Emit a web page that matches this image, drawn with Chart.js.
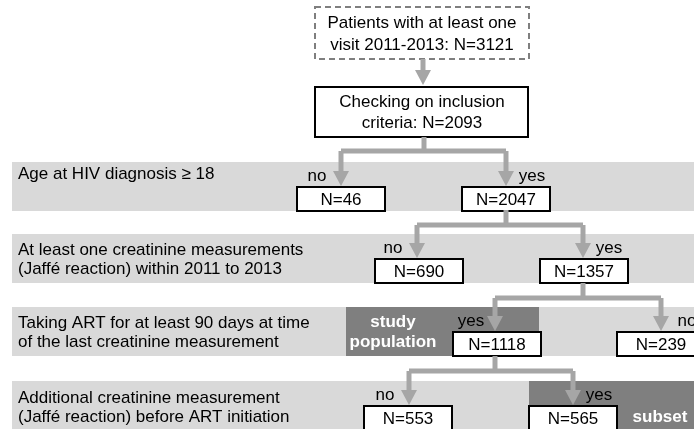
<!DOCTYPE html>
<html>
<head>
<meta charset="utf-8">
<script src="https://cdn.jsdelivr.net/npm/chart.js@4.4.1/dist/chart.umd.min.js"></script>
<style>
  html, body { margin: 0; padding: 0; background: #fff; }
  #flow { display: block; }
</style>
</head>
<body>
<canvas id="flow" width="694" height="429"></canvas>
<script>
// données du diagramme
const startText = ['Patients with at least one', 'visit 2011-2013: N=3121'];
const checkText = ['Checking on inclusion', 'criteria: N=2093'];
const criteria = [
  ['Age at HIV diagnosis \u2265 18'],
  ['At least one creatinine measurements', '(Jaffé reaction) within 2011 to 2013'],
  ['Taking ART for at least 90 days at time', 'of the last creatinine measurement'],
  ['Additional creatinine measurement', '(Jaffé reaction) before ART initiation']
];
const leftAnswers = ['no', 'no', 'yes', 'no'];
const leftCounts = [46, 690, 1118, 553];
const rightAnswers = ['yes', 'yes', 'no', 'yes'];
const rightCounts = [2047, 1357, 239, 565];
const highlights = [['study', 'population'], ['subset']];

// mise en page (unités des axes)
const rowTop = [162, 234, 307, 381];
const rowH = 49;
const branchX = [[341, 506], [417, 583], [495, 661], [409, 573]];
const splitY = [151, 225, 298, 371];
const boxX = [[297, 462], [375, 540], [453, 617], [364, 529]];
const boxW = 88, boxH = 24;
const criteriaY = [[174], [250, 269], [323, 342], [398, 417]];

const GREY_LINE = '#a6a6a6';
const BAND = '#d9d9d9';
const DARK = '#7f7f7f';
const FONT = '"Liberation Sans", Arial, sans-serif';

const flowPlugin = {
  id: 'flow',
  beforeDatasetsDraw(chart) {
    const ctx = chart.ctx;
    const sx = chart.scales.x, sy = chart.scales.y;
    const px = v => sx.getPixelForValue(v);
    const py = v => sy.getPixelForValue(v);

    function rect(x0, y0, x1, y1, fill) {
      ctx.fillStyle = fill;
      ctx.fillRect(px(x0), py(y0), px(x1) - px(x0), py(y1) - py(y0));
    }
    function box(x0, y0, w, h, dashed) {
      ctx.save();
      ctx.fillStyle = '#fff';
      ctx.fillRect(px(x0), py(y0), px(x0 + w) - px(x0), py(y0 + h) - py(y0));
      ctx.lineWidth = 2;
      ctx.strokeStyle = dashed ? '#7f7f7f' : '#000';
      if (dashed) ctx.setLineDash([6, 4]);
      ctx.strokeRect(px(x0), py(y0), px(x0 + w) - px(x0), py(y0 + h) - py(y0));
      ctx.restore();
    }
    function line(pts) {
      ctx.save();
      ctx.strokeStyle = GREY_LINE;
      ctx.lineWidth = 5;
      ctx.lineJoin = 'round';
      ctx.beginPath();
      pts.forEach((p, i) => i ? ctx.lineTo(px(p[0]), py(p[1])) : ctx.moveTo(px(p[0]), py(p[1])));
      ctx.stroke();
      ctx.restore();
    }
    function arrow(x, y0, y1) {
      line([[x, y0], [x, y1 - 12]]);
      ctx.fillStyle = GREY_LINE;
      ctx.beginPath();
      ctx.moveTo(px(x - 8), py(y1 - 15));
      ctx.lineTo(px(x + 8), py(y1 - 15));
      ctx.lineTo(px(x), py(y1));
      ctx.closePath();
      ctx.fill();
    }
    function text(str, x, y, opts) {
      opts = opts || {};
      ctx.font = (opts.bold ? 'bold ' : '') + (opts.size || 17) + 'px ' + FONT;
      ctx.fillStyle = opts.color || '#000';
      ctx.textAlign = opts.align || 'center';
      ctx.textBaseline = 'middle';
      ctx.fillText(str, px(x), py(y));
    }

    // bandes grises
    rowTop.forEach(t => rect(12, t, 694, t + rowH, BAND));
    rect(346, rowTop[2], 539, rowTop[2] + rowH, DARK);
    rect(529, rowTop[3], 694, 429, DARK);

    // libellés des critères
    criteria.forEach((lines, i) => {
      lines.forEach((l, j) => text(l, 18, criteriaY[i][j], { align: 'left' }));
    });

    // boîtes du haut
    box(315, 7, 214, 52, true);
    text(startText[0], 422, 23);
    text(startText[1], 422, 45);
    arrow(423, 59, 85);
    box(315, 87, 213, 50, false);
    text(checkText[0], 422, 102);
    text(checkText[1], 422, 123);

    // branches
    const parentX = [424, 506, 583, 495];
    const parentY = [137, 210, 283, 356];
    for (let i = 0; i < 4; i++) {
      const [xl, xr] = branchX[i];
      line([[parentX[i], parentY[i]], [parentX[i], splitY[i]]]);
      line([[xl, splitY[i]], [xr, splitY[i]]]);
      const top = rowTop[i] + rowH - boxH;
      arrow(xl, splitY[i], top - 1);
      arrow(xr, splitY[i], top - 1);
      text(leftAnswers[i], xl - 24, top - 11);
      text(rightAnswers[i], xr + 26, top - 11);
      box(boxX[i][0], top, boxW, boxH, false);
      box(boxX[i][1], top, boxW, boxH, false);
      text('N=' + leftCounts[i], boxX[i][0] + boxW / 2, top + boxH / 2 + 1);
      text('N=' + rightCounts[i], boxX[i][1] + boxW / 2, top + boxH / 2 + 1);
    }

    // étiquettes en blanc
    text(highlights[0][0], 393, 322, { bold: true, color: '#fff' });
    text(highlights[0][1], 393, 342, { bold: true, color: '#fff' });
    text(highlights[1][0], 660, 417, { bold: true, color: '#fff' });
  }
};

new Chart(document.getElementById('flow'), {
  type: 'scatter',
  data: { datasets: [{ data: [] }] },
  options: {
    responsive: false,
    animation: false,
    layout: { padding: 0 },
    scales: {
      x: { type: 'linear', min: 0, max: 694, display: false },
      y: { type: 'linear', min: 0, max: 429, reverse: true, display: false }
    },
    plugins: { legend: { display: false }, tooltip: { enabled: false } }
  },
  plugins: [flowPlugin]
});
</script>
</body>
</html>
